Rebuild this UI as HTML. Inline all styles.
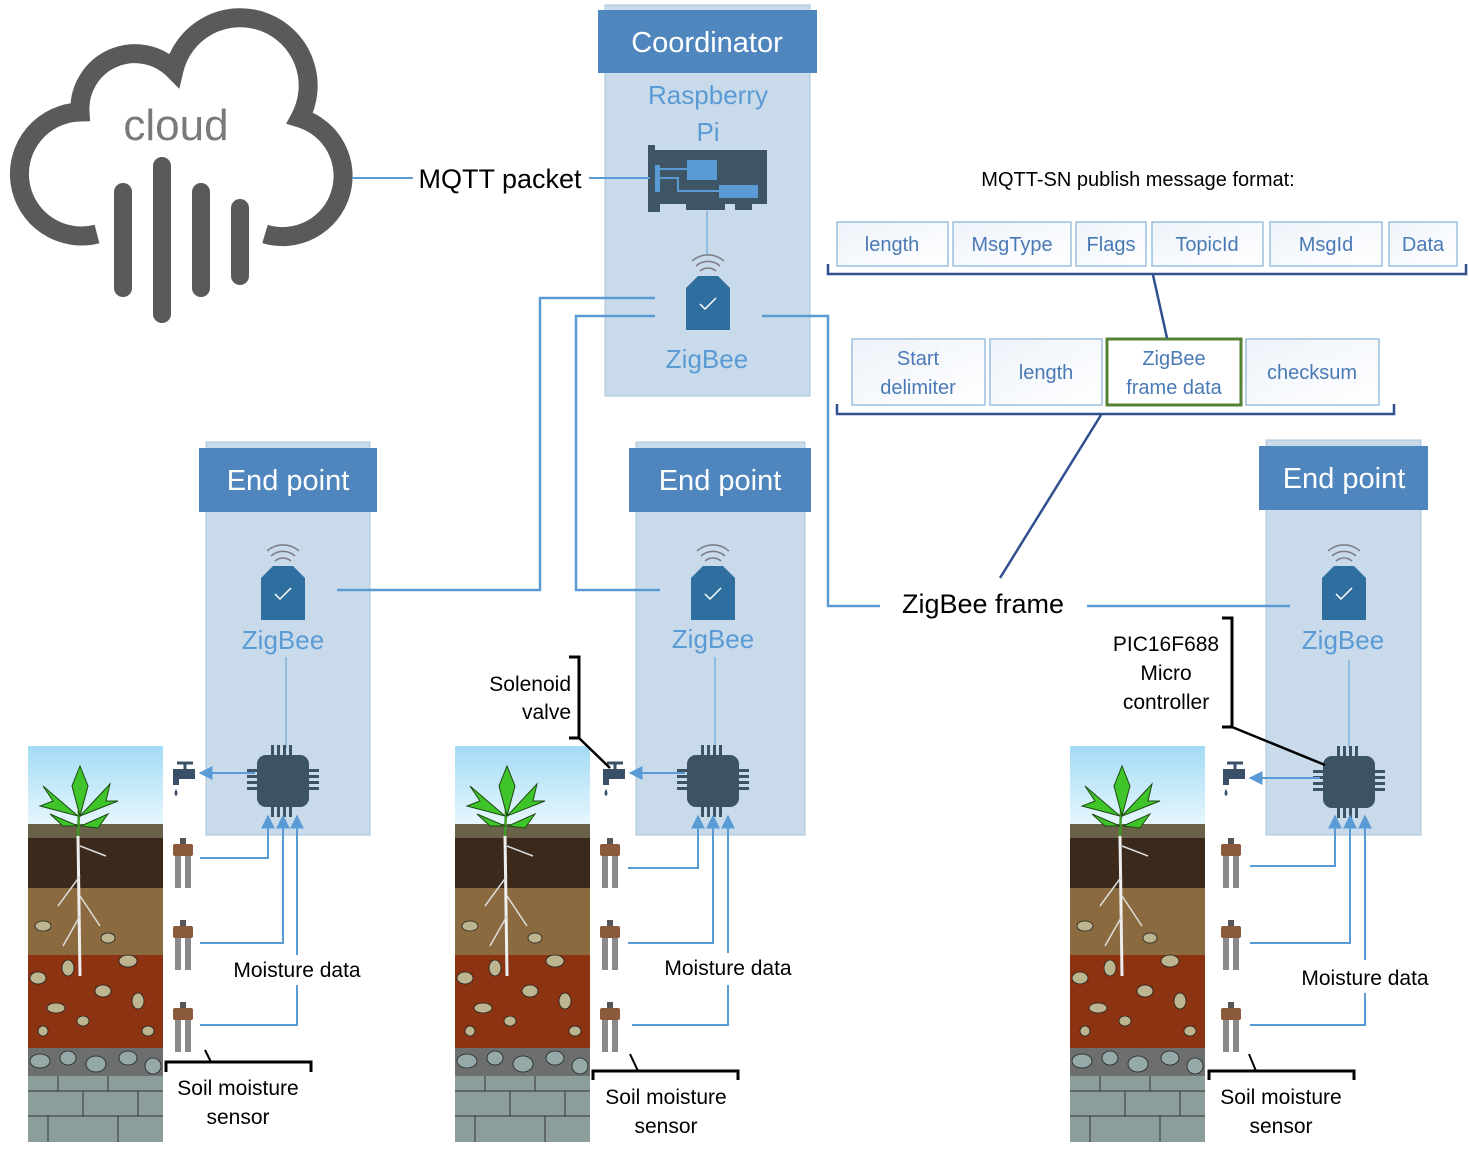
<!DOCTYPE html>
<html><head><meta charset="utf-8"><style>
html,body{margin:0;padding:0;background:#fff}
svg{display:block}
text{font-family:"Liberation Sans",sans-serif}
</style></head><body>
<svg width="1469" height="1152" viewBox="0 0 1469 1152" xmlns="http://www.w3.org/2000/svg">
<defs>
<linearGradient id="sky" x1="0" y1="0" x2="0" y2="1"><stop offset="0" stop-color="#a3dbf5"/><stop offset="1" stop-color="#e8f7fd"/></linearGradient>
<linearGradient id="cell" x1="0" y1="0" x2="1" y2="1"><stop offset="0" stop-color="#eef3fa"/><stop offset="1" stop-color="#ffffff"/></linearGradient>
<marker id="ar" viewBox="0 0 10 10" refX="9" refY="5" markerWidth="7" markerHeight="7" orient="auto-start-reverse"><path d="M0,0 L10,5 L0,10 z" fill="#5b9bd5"/></marker>
<g id="soil">
 <rect x="0" y="0" width="135" height="80" fill="url(#sky)"/>
 <rect x="0" y="80" width="135" height="62" fill="#3b2a1c"/>
 <rect x="0" y="78" width="135" height="14" fill="#6a6248"/>
 <rect x="0" y="142" width="135" height="67" fill="#8a6a3e"/>
 <rect x="0" y="209" width="135" height="93" fill="#8c3311"/>
 <rect x="0" y="302" width="135" height="28" fill="#6d6f6e"/>
 <rect x="0" y="330" width="135" height="66" fill="#8c9e9c"/>
 <g fill="#bdb58f" stroke="#222" stroke-width="0.8">
  <ellipse cx="15" cy="180" rx="8" ry="5"/><ellipse cx="80" cy="192" rx="7" ry="5"/><ellipse cx="40" cy="222" rx="6" ry="8"/>
  <ellipse cx="100" cy="215" rx="9" ry="6"/><ellipse cx="10" cy="232" rx="8" ry="6"/><ellipse cx="75" cy="245" rx="8" ry="6"/>
  <ellipse cx="28" cy="262" rx="9" ry="5"/><ellipse cx="110" cy="255" rx="6" ry="8"/><ellipse cx="55" cy="275" rx="6" ry="5"/>
  <ellipse cx="120" cy="285" rx="6" ry="5"/><ellipse cx="15" cy="285" rx="5" ry="5"/>
 </g>
 <g fill="#95a9a8" stroke="#222" stroke-width="0.8">
  <ellipse cx="12" cy="315" rx="10" ry="7"/><ellipse cx="40" cy="312" rx="8" ry="7"/><ellipse cx="68" cy="318" rx="10" ry="8"/>
  <ellipse cx="100" cy="312" rx="9" ry="7"/><ellipse cx="125" cy="320" rx="8" ry="8"/>
 </g>
 <g fill="none" stroke="#333" stroke-width="1">
  <path d="M0,345 H135 M0,370 H135 M30,330 V345 M80,330 V345 M55,345 V370 M110,345 V370 M20,370 V396 M90,370 V396"/>
 </g>
 <path d="M50,90 L52,230" stroke="#eee" stroke-width="3"/>
 <path d="M52,130 L30,160 M52,150 L72,180 M52,170 L35,200 M52,100 L78,110" stroke="#ddd" stroke-width="1.5" fill="none"/>
 <path d="M50,90 L52,40" stroke="#3d9a22" stroke-width="2.5"/>
 <g fill="#3fc42a" stroke="#1d4a12" stroke-width="1">
  <path d="M52,20 L60,40 L52,70 L44,40 z"/>
  <path d="M50,70 L15,40 L25,55 L12,60 z"/>
  <path d="M52,70 L82,38 L78,55 L90,55 z"/>
  <path d="M50,80 L22,68 L35,80 z"/><path d="M53,80 L80,68 L70,82 z"/>
 </g>
</g>
<g id="sensor">
 <rect x="-10" y="0" width="20" height="12" rx="2" fill="#8b5a3c"/>
 <rect x="-3" y="-6" width="6" height="6" fill="#555"/>
 <rect x="-8" y="12" width="6" height="32" fill="#8a8a8a"/>
 <rect x="2" y="12" width="6" height="32" fill="#8a8a8a"/>
</g>
<g id="chip">
 <g fill="#3c5366">
  <rect x="-12" y="-36" width="3" height="12"/><rect x="-6" y="-36" width="3" height="12"/><rect x="0" y="-36" width="3" height="12"/><rect x="6" y="-36" width="3" height="12"/>
  <rect x="-12" y="24" width="3" height="12"/><rect x="-6" y="24" width="3" height="12"/><rect x="0" y="24" width="3" height="12"/><rect x="6" y="24" width="3" height="12"/>
  <rect x="-36" y="-12" width="12" height="3"/><rect x="-36" y="-6" width="12" height="3"/><rect x="-36" y="0" width="12" height="3"/><rect x="-36" y="6" width="12" height="3"/>
  <rect x="24" y="-12" width="12" height="3"/><rect x="24" y="-6" width="12" height="3"/><rect x="24" y="0" width="12" height="3"/><rect x="24" y="6" width="12" height="3"/>
  <rect x="-26" y="-26" width="52" height="52" rx="9"/>
 </g>
</g>
<g id="zb">
 <path d="M-22,-2 L-10,-14 H10 L22,-2 V40 H-22 z" fill="#2e6fa0"/>
 <path d="M-8,14 L-3,19 L8,8" stroke="#fff" stroke-width="1.5" fill="none"/>
 <g fill="none" stroke="#7a7a80" stroke-width="1.5">
  <path d="M-8,-19 A12,12 0 0 1 8,-19"/><path d="M-12,-24 A18,18 0 0 1 12,-24"/><path d="M-16,-29 A24,24 0 0 1 16,-29"/>
 </g>
</g>
<g id="tap">
 <path d="M-8,-12 H8 M0,-12 V-6" stroke="#3a5068" stroke-width="3"/>
 <path d="M-12,-6 H10 V4 H-6 V10 H-12 z" fill="#3a5068"/>
 <path d="M-9,14 Q-12,19 -9,21 Q-6,19 -9,14 z" fill="#3a5068"/>
</g>
</defs>

<!-- Cloud -->
<path d="M97,234 A62,62 0 1 1 80,112 A55,55 0 0 1 174,70 A68,68 0 1 1 300,118 A60,60 0 1 1 265,234" fill="none" stroke="#5a5a5a" stroke-width="19"/>
<g stroke="#5a5a5a" stroke-width="18" stroke-linecap="round">
 <line x1="123" y1="192" x2="123" y2="288"/><line x1="162" y1="166" x2="162" y2="314"/>
 <line x1="201" y1="192" x2="201" y2="288"/><line x1="240" y1="208" x2="240" y2="276"/>
</g>
<text x="176" y="140" font-size="44" fill="#7a7a7a" text-anchor="middle">cloud</text>

<!-- Coordinator -->
<rect x="605" y="5" width="205" height="391" fill="#c9dbea" stroke="#a9c4dc"/>
<rect x="598" y="10" width="219" height="63" fill="#4e86bd"/>
<text x="707" y="52" font-size="29" fill="#fff" text-anchor="middle">Coordinator</text>
<text x="708" y="104" font-size="26" fill="#5b9bd5" text-anchor="middle">Raspberry</text>
<text x="708" y="141" font-size="26" fill="#5b9bd5" text-anchor="middle">Pi</text>
<!-- Pi card -->
<path d="M648,145 H655 V150 H767 V204 H752 V210 H735 V204 H725 V210 H686 V204 H660 V212 H648 z" fill="#3e5566"/>
<rect x="655" y="165" width="5" height="27" fill="#5b9bd5"/>
<rect x="687" y="160" width="30" height="20" fill="#5b9bd5"/>
<rect x="719" y="185" width="39" height="13" fill="#5b9bd5"/>
<path d="M660,169 H687 M660,178 H678 V191 H719" stroke="#5b9bd5" stroke-width="2" fill="none"/>
<line x1="707" y1="211" x2="707" y2="255" stroke="#5b9bd5" stroke-width="1"/>
<use href="#zb" x="708" y="290"/>
<text x="707" y="368" font-size="26" fill="#5b9bd5" text-anchor="middle">ZigBee</text>

<!-- MQTT -->
<line x1="352" y1="178" x2="413" y2="178" stroke="#5b9bd5" stroke-width="2"/>
<text x="500" y="188" font-size="27" fill="#000" text-anchor="middle">MQTT packet</text>
<line x1="589" y1="178" x2="650" y2="178" stroke="#5b9bd5" stroke-width="2"/>

<!-- End points -->
<rect x="206" y="442" width="164" height="393" fill="#c9dbea" stroke="#a9c4dc"/>
<rect x="199" y="448" width="178" height="64" fill="#4e86bd"/>
<text x="288" y="490" font-size="29" fill="#fff" text-anchor="middle">End point</text>
<use href="#zb" x="283" y="580"/>
<text x="283" y="649" font-size="26" fill="#5b9bd5" text-anchor="middle">ZigBee</text>
<line x1="286" y1="657" x2="286" y2="748" stroke="#5b9bd5" stroke-width="1"/>
<use href="#chip" x="283" y="781"/>

<rect x="636" y="442" width="169" height="393" fill="#c9dbea" stroke="#a9c4dc"/>
<rect x="629" y="448" width="182" height="64" fill="#4e86bd"/>
<text x="720" y="490" font-size="29" fill="#fff" text-anchor="middle">End point</text>
<use href="#zb" x="713" y="580"/>
<text x="713" y="648" font-size="26" fill="#5b9bd5" text-anchor="middle">ZigBee</text>
<line x1="715" y1="657" x2="715" y2="748" stroke="#5b9bd5" stroke-width="1"/>
<use href="#chip" x="713" y="781"/>

<rect x="1266" y="440" width="155" height="395" fill="#c9dbea" stroke="#a9c4dc"/>
<rect x="1259" y="446" width="169" height="64" fill="#4e86bd"/>
<text x="1344" y="488" font-size="29" fill="#fff" text-anchor="middle">End point</text>
<use href="#zb" x="1344" y="580"/>
<text x="1343" y="649" font-size="26" fill="#5b9bd5" text-anchor="middle">ZigBee</text>
<line x1="1349" y1="660" x2="1349" y2="748" stroke="#5b9bd5" stroke-width="1"/>
<use href="#chip" x="1349" y="782"/>

<!-- Network lines -->
<g fill="none" stroke="#5b9bd5" stroke-width="2.5">
 <path d="M655,298 H540 V590 H337"/>
 <path d="M655,316 H576 V590 H660"/>
 <path d="M762,316 H828 V606 H880"/>
 <path d="M1087,606 H1290"/>
</g>
<text x="983" y="613" font-size="27" fill="#000" text-anchor="middle">ZigBee frame</text>

<!-- Message format -->
<text x="1138" y="186" font-size="20" fill="#000" text-anchor="middle">MQTT-SN publish message format:</text>
<g stroke="#9cbfe0" stroke-width="1.5" fill="url(#cell)">
 <rect x="837" y="222" width="111" height="44"/><rect x="953" y="222" width="118" height="44"/>
 <rect x="1076" y="222" width="70" height="44"/><rect x="1152" y="222" width="111" height="44"/>
 <rect x="1270" y="222" width="112" height="44"/><rect x="1389" y="222" width="68" height="44"/>
 <rect x="852" y="339" width="133" height="66"/><rect x="990" y="339" width="112" height="66"/>
 <rect x="1246" y="339" width="133" height="66"/>
</g>
<rect x="1107" y="339" width="134" height="66" fill="#fff" stroke="#548235" stroke-width="3"/>
<g font-size="20" fill="#4a7ab5" text-anchor="middle">
 <text x="892" y="251">length</text><text x="1012" y="251">MsgType</text><text x="1111" y="251">Flags</text>
 <text x="1207" y="251">TopicId</text><text x="1326" y="251">MsgId</text><text x="1423" y="251">Data</text>
 <text x="918" y="365">Start</text><text x="918" y="394">delimiter</text>
 <text x="1046" y="379">length</text>
 <text x="1174" y="365">ZigBee</text><text x="1174" y="394">frame data</text>
 <text x="1312" y="379">checksum</text>
</g>
<g fill="none" stroke="#2f4f8f" stroke-width="2.5">
 <path d="M828,264 V274 H1466 V264"/>
 <path d="M1153,275 L1167,338"/>
 <path d="M837,404 V414 H1394 V404"/>
 <path d="M1101,415 L1000,578"/>
</g>

<!-- Soil columns -->
<use href="#soil" x="28" y="746"/>
<use href="#soil" x="455" y="746"/>
<use href="#soil" x="1070" y="746"/>

<!-- column 1 peripherals -->
<use href="#tap" x="185" y="775"/>
<use href="#sensor" x="183" y="844"/><use href="#sensor" x="183" y="926"/><use href="#sensor" x="183" y="1008"/>
<use href="#tap" x="615" y="775"/>
<use href="#sensor" x="610" y="844"/><use href="#sensor" x="610" y="926"/><use href="#sensor" x="610" y="1008"/>
<use href="#tap" x="1235" y="775"/>
<use href="#sensor" x="1231" y="844"/><use href="#sensor" x="1231" y="926"/><use href="#sensor" x="1231" y="1008"/>

<g fill="none" stroke="#5b9bd5" stroke-width="2">
 <path d="M255,773 H200" marker-end="url(#ar)"/>
 <path d="M200,858 H268 V816" marker-end="url(#ar)"/>
 <path d="M200,943 H283 V816" marker-end="url(#ar)"/>
 <path d="M297,955 V816" marker-end="url(#ar)"/>
 <path d="M297,985 V1025 H200"/>

 <path d="M685,773 H630" marker-end="url(#ar)"/>
 <path d="M628,868 H698 V816" marker-end="url(#ar)"/>
 <path d="M628,943 H713 V816" marker-end="url(#ar)"/>
 <path d="M728,953 V816" marker-end="url(#ar)"/>
 <path d="M728,985 V1025 H632"/>

 <path d="M1320,778 H1250" marker-end="url(#ar)"/>
 <path d="M1250,866 H1335 V816" marker-end="url(#ar)"/>
 <path d="M1250,943 H1350 V816" marker-end="url(#ar)"/>
 <path d="M1365,960 V816" marker-end="url(#ar)"/>
 <path d="M1365,993 V1025 H1250"/>
</g>
<g font-size="21" fill="#000" text-anchor="middle">
 <text x="297" y="977">Moisture data</text>
 <text x="728" y="975">Moisture data</text>
 <text x="1365" y="985">Moisture data</text>
 <text x="238" y="1095">Soil moisture</text><text x="238" y="1124">sensor</text>
 <text x="666" y="1104">Soil moisture</text><text x="666" y="1133">sensor</text>
 <text x="1281" y="1104">Soil moisture</text><text x="1281" y="1133">sensor</text>
 <text x="1166" y="651">PIC16F688</text><text x="1166" y="680">Micro</text><text x="1166" y="709">controller</text>
</g>
<g font-size="21" fill="#000" text-anchor="end">
 <text x="571" y="691">Solenoid</text><text x="571" y="719">valve</text>
</g>
<g fill="none" stroke="#000" stroke-width="3">
 <path d="M166,1072 V1062 H311 V1072"/><path d="M205,1050 L211,1062" stroke-width="2"/>
 <path d="M593,1080 V1071 H738 V1080"/><path d="M630,1054 L638,1071" stroke-width="2"/>
 <path d="M1209,1080 V1071 H1354 V1080"/><path d="M1249,1054 L1256,1071" stroke-width="2"/>
 <path d="M1222,618 H1232 V727 H1222"/><path d="M1232,727 L1325,765" stroke-width="2.5"/>
 <path d="M569,657 H579 V738 H569"/><path d="M579,738 L610,768" stroke-width="2.5"/>
</g>
</svg>
</body></html>
